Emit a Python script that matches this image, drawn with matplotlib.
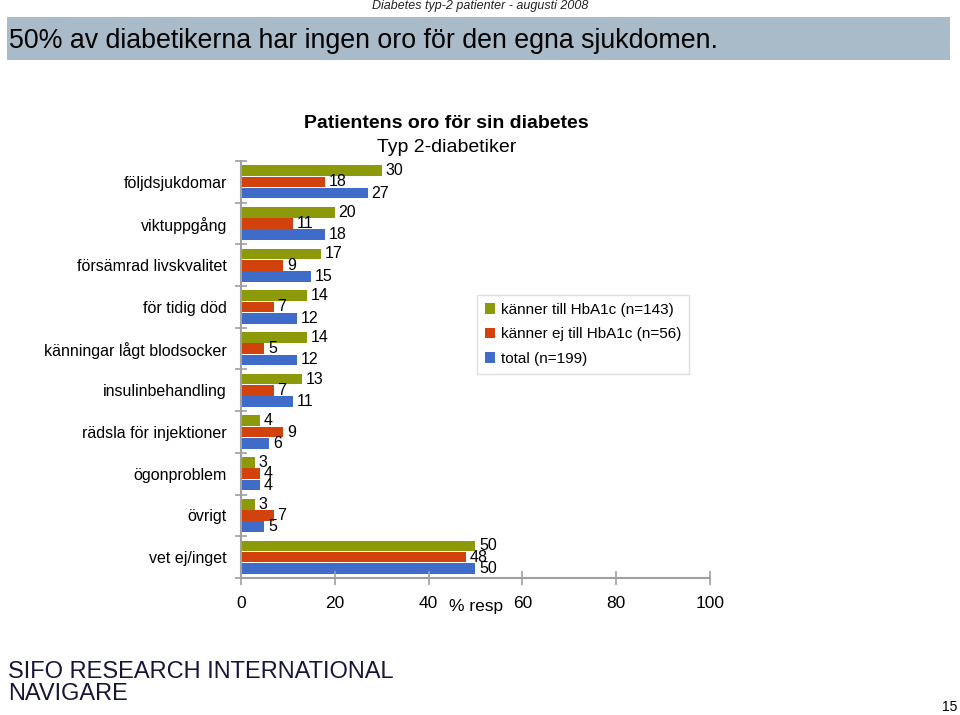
import matplotlib
matplotlib.use("Agg")
import matplotlib.pyplot as plt
from matplotlib.patches import Rectangle
import numpy as np

plt.rcParams['font.family'] = ['Liberation Sans', 'DejaVu Sans']

categories = ["följdsjukdomar", "viktuppgång", "försämrad livskvalitet", "för tidig död",
              "känningar lågt blodsocker", "insulinbehandling", "rädsla för injektioner",
              "ögonproblem", "övrigt", "vet ej/inget"]
kanner = [30, 20, 17, 14, 14, 13, 4, 3, 3, 50]
kanner_ej = [18, 11, 9, 7, 5, 7, 9, 4, 7, 48]
total = [27, 18, 15, 12, 12, 11, 6, 4, 5, 50]
series_names = ["känner till HbA1c (n=143)", "känner ej till HbA1c (n=56)", "total (n=199)"]
colors = ["#8C9A0A", "#D2420C", "#3F6CC8"]
xticks = [0, 20, 40, 60, 80, 100]

fig = plt.figure(figsize=(9.6, 7.15), dpi=100)

# header
fig.text(588/960, 1-6/715, "Diabetes typ-2 patienter - augusti 2008", ha='right', va='center',
         fontsize=9, style='italic', color='#222222')
fig.patches.append(Rectangle((7/960, 1-60/715), 943/960, 43/715, transform=fig.transFigure,
                             facecolor='#A9BBC8', edgecolor='none', zorder=0))
fig.text(9/960, 1-41/715, "50% av diabetikerna har ingen oro för den egna sjukdomen.",
         ha='left', va='center', fontsize=19.3, color='black')

ax = fig.add_axes([241/960, 1-578/715, 469/960, 417/715])
n = len(categories)
y = np.arange(n)
h = 0.255
off = 0.27
vals = [kanner, kanner_ej, total]
for i, (v, c, name) in enumerate(zip(vals, colors, series_names)):
    pos = y + (i - 1) * off
    ax.barh(pos, v, height=h, color=c, label=name)
    for p, val in zip(pos, v):
        ax.text(val + 0.8, p, str(val), va='center', ha='left', fontsize=11.5)

ax.set_ylim(n - 0.5, -0.5)
ax.set_xlim(0, 100)
ax.set_yticks(y)
ax.set_yticklabels(categories, fontsize=11.5)
ax.set_yticks(np.arange(-0.5, n, 1), minor=True)
ax.tick_params(axis='y', which='major', length=0, pad=10)
ax.tick_params(axis='y', which='minor', length=8, direction='inout', color='#A0A0A0', width=1.2)
ax.set_xticks(xticks)
ax.set_xticklabels([str(t) for t in xticks], fontsize=12.5)
ax.tick_params(axis='x', length=10, direction='inout', color='#A0A0A0', width=1.2, pad=8)
for s in ['top', 'right']:
    ax.spines[s].set_visible(False)
for s in ['left', 'bottom']:
    ax.spines[s].set_color('#A0A0A0')
    ax.spines[s].set_linewidth(1.5)

fig.text(476/960, 1-606/715, "% resp", ha='center', va='center', fontsize=12.5)
fig.text(446/960, 1-124/715, "Patientens oro för sin diabetes", ha='center', va='center',
         fontsize=14, fontweight='bold')
fig.text(447/960, 1-147/715, "Typ 2-diabetiker", ha='center', va='center', fontsize=14)

leg = ax.legend(loc='upper left', bbox_to_anchor=(477/960, 1-295/715), bbox_transform=fig.transFigure,
                fontsize=11, frameon=True, fancybox=False, handlelength=0.7, handleheight=0.7,
                handletextpad=0.4, labelspacing=0.7, borderpad=0.5, borderaxespad=0)
leg.get_frame().set_edgecolor('#D8D8D8')
leg.get_frame().set_linewidth(1)

fig.text(8/960, 1-672/715, "SIFO RESEARCH INTERNATIONAL", ha='left', va='center', fontsize=17,
         family=['Liberation Sans Narrow', 'Liberation Sans'], color='#15163A')
fig.text(8/960, 1-694/715, "NAVIGARE", ha='left', va='center', fontsize=17,
         family=['Liberation Sans Narrow', 'Liberation Sans'], color='#15163A')
fig.text(957/960, 1-707/715, "15", ha='right', va='center', fontsize=10)

fig.savefig("out.png", dpi=100)
